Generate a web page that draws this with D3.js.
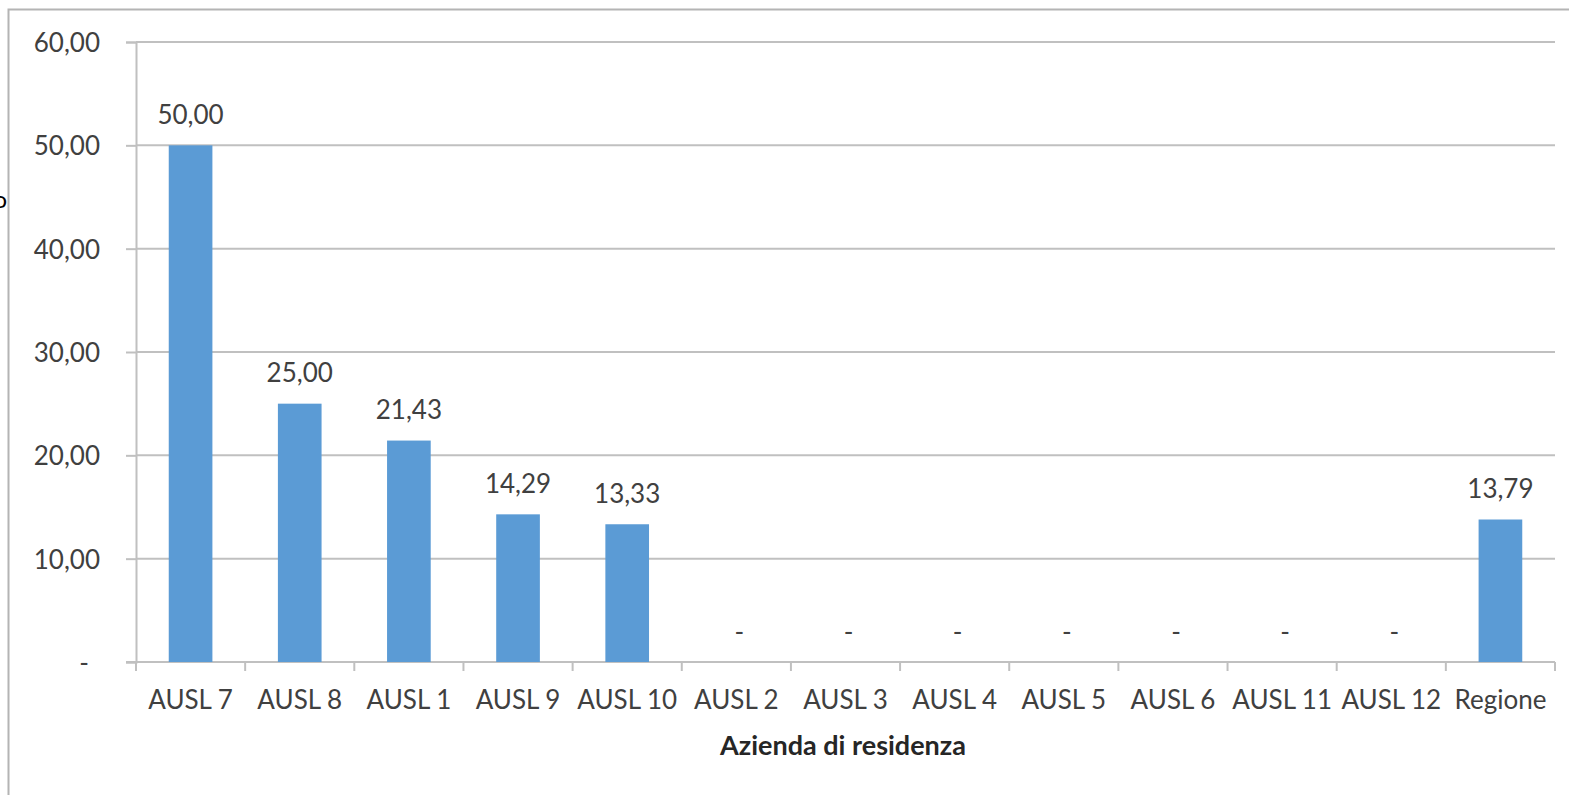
<!DOCTYPE html>
<html>
<head>
<meta charset="utf-8">
<script src="https://cdn.jsdelivr.net/npm/d3@7"></script>
<style>
  html, body { margin: 0; padding: 0; background: #fff; }
  svg { display: block; }
  text { font-family: Lato, "Open Sans", sans-serif; fill: #404040; }
</style>
</head>
<body>
<svg id="chart" width="1569" height="795"></svg>
<script>
const categories = ["AUSL 7","AUSL 8","AUSL 1","AUSL 9","AUSL 10","AUSL 2","AUSL 3","AUSL 4","AUSL 5","AUSL 6","AUSL 11","AUSL 12","Regione"];
const values = [50.00, 25.00, 21.43, 14.29, 13.33, 0, 0, 0, 0, 0, 0, 0, 13.79];
const yTicks = [0, 10, 20, 30, 40, 50, 60];
const xTitle = "Azienda di residenza";

const svg = d3.select("#chart");
const mLeft = 136, mRight = 1555, mTop = 42, mBottom = 662;

const fmt = v => v === 0 ? "-" : d3.format(".2f")(v).replace(".", ",");

// outer frame
svg.append("rect").attr("x", 8.5).attr("y", 9.5).attr("width", 1600).attr("height", 900)
  .attr("fill", "none").attr("stroke", "#b4b4b4").attr("stroke-width", 2);
// stray clipped character at left edge
svg.append("text").attr("x", 7).attr("y", 208).attr("text-anchor", "end")
  .style("font-size", "24px").style("fill", "#000").text("o");

const x = d3.scaleBand().domain(categories).range([mLeft, mRight]).paddingInner(0.6).paddingOuter(0.3);
const y = d3.scaleLinear().domain([0, 60]).range([mBottom, mTop]);

// gridlines
svg.append("g").selectAll("line").data(yTicks.filter(d => d > 0)).join("line")
  .attr("x1", mLeft).attr("x2", mRight).attr("y1", d => y(d)).attr("y2", d => y(d))
  .attr("stroke", "#c0c0c0").attr("stroke-width", 2);

// y axis
const yAxis = svg.append("g").attr("transform", `translate(${mLeft},0)`)
  .call(d3.axisLeft(y).tickValues(yTicks).tickSize(10).tickPadding(0).tickFormat(fmt));
yAxis.select(".domain").attr("stroke", "#c0c0c0").attr("stroke-width", 2);
yAxis.selectAll(".tick line").attr("stroke", "#c0c0c0").attr("stroke-width", 2);
yAxis.selectAll(".tick text")
  .attr("x", -36).attr("dy", "0.36em")
  .style("font-size", "26px").style("font-family", "Lato, 'Open Sans', sans-serif").style("fill", "#404040");
yAxis.selectAll(".tick").filter(d => d === 0).select("text").attr("x", -47);

// x axis
const bounds = d3.range(categories.length + 1).map(i => mLeft + i * (mRight - mLeft) / categories.length);
svg.append("line").attr("x1", mLeft - 10).attr("x2", mRight).attr("y1", mBottom).attr("y2", mBottom)
  .attr("stroke", "#c0c0c0").attr("stroke-width", 2);
svg.append("g").selectAll("line").data(bounds).join("line")
  .attr("x1", d => d).attr("x2", d => d).attr("y1", mBottom).attr("y2", mBottom + 9)
  .attr("stroke", "#c0c0c0").attr("stroke-width", 2);

const xAxis = svg.append("g").attr("transform", `translate(0,${mBottom})`)
  .call(d3.axisBottom(x).tickSize(0).tickPadding(0));
xAxis.select(".domain").remove();
xAxis.selectAll(".tick text").attr("y", 46.5).attr("dy", 0)
  .style("font-size", "26px").style("font-family", "Lato, 'Open Sans', sans-serif").style("fill", "#404040");

// bars
svg.append("g").selectAll("rect").data(values).join("rect")
  .attr("x", (d, i) => x(categories[i]))
  .attr("width", x.bandwidth())
  .attr("y", d => y(d))
  .attr("height", d => mBottom - y(d))
  .attr("fill", "#5b9bd5");

// value labels
svg.append("g").selectAll("text").data(values).join("text")
  .attr("x", (d, i) => x(categories[i]) + x.bandwidth() / 2 + (d === 0 ? 3 : 0))
  .attr("y", d => d === 0 ? 641 : y(d) - 21.5)
  .attr("text-anchor", "middle")
  .style("font-size", "26px")
  .text(fmt);

// axis title
svg.append("text").attr("x", 843).attr("y", 755).attr("text-anchor", "middle")
  .style("font-size", "27px").style("font-weight", "bold").style("fill", "#262626").text(xTitle);
</script>
</body>
</html>
